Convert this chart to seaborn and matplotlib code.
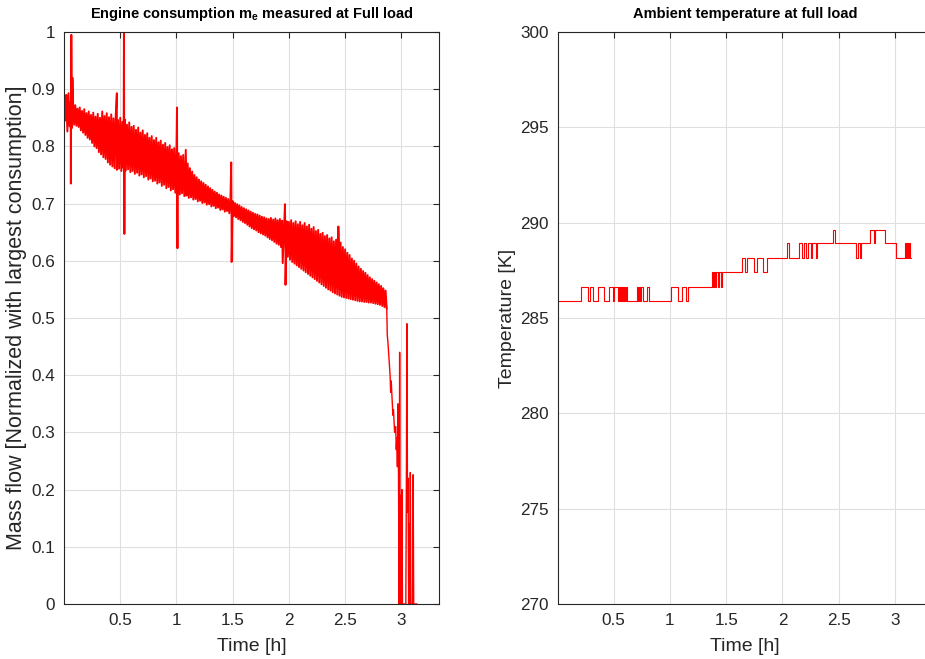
import numpy as np
import pandas as pd
import matplotlib
matplotlib.use("Agg")
import matplotlib.pyplot as plt
import seaborn as sns

# ---------------- data: left panel (normalized mass flow) ----------------
# upper excursions of the noisy signal, sampled at t = 0.00, 0.02, 0.04, ... h
flow_peak = [
    0.895, 0.890, 0.893, 0.878, 0.880, 0.872, 0.866, 0.868, 0.862, 0.865,
    0.858, 0.861, 0.855, 0.859, 0.852, 0.857, 0.850, 0.861, 0.853, 0.858,
    0.851, 0.856, 0.849, 0.854, 0.846, 0.850, 0.843, 0.847, 0.838, 0.842,
    0.834, 0.836, 0.829, 0.833, 0.824, 0.828, 0.820, 0.823, 0.815, 0.818,
    0.811, 0.815, 0.807, 0.810, 0.803, 0.806, 0.799, 0.802, 0.795, 0.797,
    0.792, 0.788, 0.783, 0.785, 0.776, 0.770, 0.762, 0.756, 0.750, 0.746,
    0.742, 0.739, 0.736, 0.733, 0.730, 0.727, 0.724, 0.721, 0.719, 0.716,
    0.714, 0.712, 0.710, 0.708, 0.706, 0.704, 0.701, 0.699, 0.697, 0.694,
    0.692, 0.690, 0.688, 0.686, 0.684, 0.682, 0.681, 0.679, 0.677, 0.676,
    0.674, 0.673, 0.675, 0.672, 0.674, 0.671, 0.673, 0.670, 0.672, 0.669,
    0.668, 0.671, 0.666, 0.669, 0.664, 0.668, 0.662, 0.666, 0.660, 0.663,
    0.656, 0.659, 0.652, 0.654, 0.647, 0.649, 0.643, 0.645, 0.639, 0.641,
    0.634, 0.637, 0.630, 0.632, 0.624, 0.620, 0.614, 0.610, 0.604, 0.600,
    0.595, 0.590, 0.586, 0.582, 0.579, 0.575, 0.571, 0.568, 0.565, 0.562,
    0.559, 0.556, 0.552, 0.548,
]
# lower excursions, sampled at t = 0.01, 0.03, 0.05, ... h
flow_trough = [
    0.845, 0.826, 0.835, 0.832, 0.838, 0.836, 0.834, 0.828, 0.824, 0.820,
    0.815, 0.812, 0.806, 0.800, 0.797, 0.790, 0.786, 0.781, 0.778, 0.772,
    0.768, 0.765, 0.762, 0.759, 0.761, 0.757, 0.762, 0.758, 0.760, 0.755,
    0.757, 0.752, 0.754, 0.749, 0.751, 0.746, 0.748, 0.742, 0.744, 0.739,
    0.740, 0.735, 0.737, 0.731, 0.733, 0.727, 0.729, 0.723, 0.725, 0.719,
    0.721, 0.716, 0.718, 0.713, 0.714, 0.710, 0.711, 0.707, 0.708, 0.704,
    0.705, 0.701, 0.702, 0.698, 0.699, 0.695, 0.696, 0.692, 0.693, 0.689,
    0.690, 0.686, 0.687, 0.683, 0.680, 0.678, 0.676, 0.673, 0.671, 0.668,
    0.666, 0.663, 0.660, 0.657, 0.655, 0.653, 0.650, 0.648, 0.646, 0.644,
    0.641, 0.638, 0.636, 0.633, 0.630, 0.628, 0.624, 0.620, 0.614, 0.607,
    0.602, 0.598, 0.595, 0.592, 0.589, 0.586, 0.583, 0.580, 0.577, 0.574,
    0.571, 0.568, 0.565, 0.562, 0.559, 0.556, 0.553, 0.550, 0.548, 0.545,
    0.543, 0.541, 0.539, 0.537, 0.536, 0.535, 0.534, 0.533, 0.532, 0.531,
    0.530, 0.529, 0.529, 0.528, 0.528, 0.527, 0.527, 0.526, 0.525, 0.524,
    0.523, 0.521, 0.519, 0.516,
]
# isolated measurement spikes
spike_time = [0.061, 0.065, 0.075, 0.470, 0.533, 0.537, 1.005, 1.009, 1.083,
              1.487, 1.491, 1.945, 1.965, 1.970, 2.440]
spike_value = [0.735, 0.995, 0.920, 0.893, 1.000, 0.647, 0.868, 0.622, 0.794,
               0.772, 0.598, 0.596, 0.699, 0.558, 0.660]
# end of run: consumption collapses
drop_time = [2.870, 2.875, 2.880, 2.890, 2.900, 2.905, 2.910, 2.920, 2.925,
             2.930, 2.940, 2.950, 2.955, 2.960, 2.965, 2.970, 2.975, 2.980,
             2.985, 2.990, 2.995, 3.000, 3.005, 3.010, 3.040, 3.045, 3.050,
             3.055, 3.060, 3.065, 3.070, 3.075, 3.080, 3.085, 3.100, 3.105,
             3.110, 3.140]
drop_value = [0.520, 0.470, 0.460, 0.430, 0.400, 0.370, 0.390, 0.350, 0.330,
              0.340, 0.300, 0.310, 0.270, 0.290, 0.240, 0.350, 0.220, 0.000,
              0.440, 0.000, 0.190, 0.000, 0.200, 0.000, 0.000, 0.220, 0.490,
              0.160, 0.220, 0.000, 0.140, 0.000, 0.230, 0.000, 0.000, 0.226,
              0.000, 0.000]

# ---------------- data: right panel (ambient temperature) ----------------
temp_time = [0.003, 0.210, 0.269, 0.287, 0.319, 0.358, 0.417, 0.458, 0.497,
             0.506, 0.535, 0.545, 0.553, 0.560, 0.568, 0.575, 0.583, 0.590,
             0.598, 0.606, 0.615, 0.704, 0.715, 0.722, 0.738, 0.745, 0.763,
             0.793, 0.813, 1.009, 1.074, 1.104, 1.139, 1.163, 1.370, 1.385,
             1.392, 1.400, 1.410, 1.430, 1.440, 1.455, 1.462, 1.637, 1.666,
             1.681, 1.746, 1.770, 1.829, 1.864, 2.042, 2.060, 2.149, 2.170,
             2.190, 2.208, 2.228, 2.258, 2.267, 2.297, 2.308, 2.450, 2.468,
             2.658, 2.673, 2.687, 2.702, 2.776, 2.812, 2.827, 2.909, 3.013,
             3.087, 3.095, 3.105, 3.115, 3.125, 3.131, 3.140]
temp_value = [285.90, 286.65, 285.90, 286.65, 285.90, 286.65, 285.90, 286.65,
              285.90, 286.65, 285.90, 286.65, 285.90, 286.65, 285.90, 286.65,
              285.90, 286.65, 285.90, 286.65, 285.90, 286.65, 285.90, 286.65,
              285.90, 286.65, 285.90, 286.65, 285.90, 286.65, 285.90, 286.65,
              285.90, 286.65, 287.42, 286.65, 287.42, 286.65, 287.42, 286.65,
              287.42, 286.65, 287.42, 288.17, 287.42, 288.17, 287.42, 288.17,
              287.42, 288.17, 288.92, 288.17, 288.92, 288.17, 288.92, 288.17,
              288.92, 288.17, 288.92, 288.17, 288.92, 289.63, 288.92, 288.17,
              288.92, 288.17, 288.92, 289.63, 288.92, 289.63, 288.92, 288.17,
              288.92, 288.17, 288.92, 288.17, 288.92, 288.17, 288.17]

time_ticks = [0.5, 1, 1.5, 2, 2.5, 3]
time_tick_labels = ["0.5", "1", "1.5", "2", "2.5", "3"]
flow_ticks = [0, 0.1, 0.2, 0.3, 0.4, 0.5, 0.6, 0.7, 0.8, 0.9, 1.0]
flow_tick_labels = ["0", "0.1", "0.2", "0.3", "0.4", "0.5", "0.6", "0.7",
                    "0.8", "0.9", "1"]
temp_ticks = [270, 275, 280, 285, 290, 295, 300]
temp_tick_labels = ["270", "275", "280", "285", "290", "295", "300"]

# ---------------- assemble the flow series ----------------
peak_t = np.arange(len(flow_peak)) * 0.02
trough_t = np.arange(len(flow_trough)) * 0.02 + 0.01
all_t = np.concatenate([peak_t, trough_t, spike_time])
all_v = np.concatenate([flow_peak, flow_trough, spike_value])
order = np.argsort(all_t, kind="mergesort")
flow_df = pd.DataFrame({"time": all_t[order], "flow": all_v[order]})
drop_df = pd.DataFrame({"time": drop_time, "flow": drop_value})
temp_df = pd.DataFrame({"time": temp_time, "temp": temp_value})

# ---------------- style ----------------
sns.set_theme(style="white")
plt.rcParams["font.family"] = ["Liberation Sans", "DejaVu Sans"]
plt.rcParams["mathtext.default"] = "regular"
dark = "#262626"
grid_c = "#dfdfdf"

fig = plt.figure(figsize=(9.25, 6.59), dpi=100)
W, H = 925.0, 659.0
ax1 = fig.add_axes([64 / W, (H - 604) / H, 375 / W, 572 / H])
ax2 = fig.add_axes([557.5 / W, (H - 604) / H, 375 / W, 572 / H])

sns.lineplot(data=flow_df, x="time", y="flow", ax=ax1, color="#ff0000",
             lw=1.4, sort=False, estimator=None)
sns.lineplot(data=drop_df, x="time", y="flow", ax=ax1, color="#ff0000",
             lw=1.0, sort=False, estimator=None)
sns.lineplot(data=temp_df, x="time", y="temp", ax=ax2, color="#ff0000",
             lw=0.8, sort=False, estimator=None, drawstyle="steps-post")

def style(ax, yticks, ylabels, ylim, ylabel, ylabel_size, title):
    ax.set_xlim(0, 3.335)
    ax.set_ylim(*ylim)
    ax.set_xticks(time_ticks)
    ax.set_xticklabels(time_tick_labels)
    ax.set_yticks(yticks)
    ax.set_yticklabels(ylabels)
    ax.grid(True, color=grid_c, lw=0.8)
    ax.set_axisbelow(True)
    for s in ax.spines.values():
        s.set_color(dark)
        s.set_linewidth(0.8)
        s.set_visible(True)
    ax.tick_params(direction="in", top=True, right=True, length=4.5,
                   width=0.8, color=dark, labelcolor=dark, labelsize=12.3,
                   pad=6.5)
    ax.set_xlabel("Time [h]", fontsize=14, color=dark, labelpad=7)
    ax.set_ylabel(ylabel, fontsize=ylabel_size, color=dark, labelpad=3)
    ax.set_title(title, fontsize=10.5, fontweight="bold", color="black",
                 pad=10)

style(ax1, flow_ticks, flow_tick_labels, (0, 1),
      "Mass flow [Normalized with largest consumption]", 15.5,
      "Engine consumption m$_{e}$ measured at Full load")
style(ax2, temp_ticks, temp_tick_labels, (270, 300),
      "Temperature [K]", 14,
      "Ambient temperature at full load")

fig.savefig("out.png", dpi=100)
